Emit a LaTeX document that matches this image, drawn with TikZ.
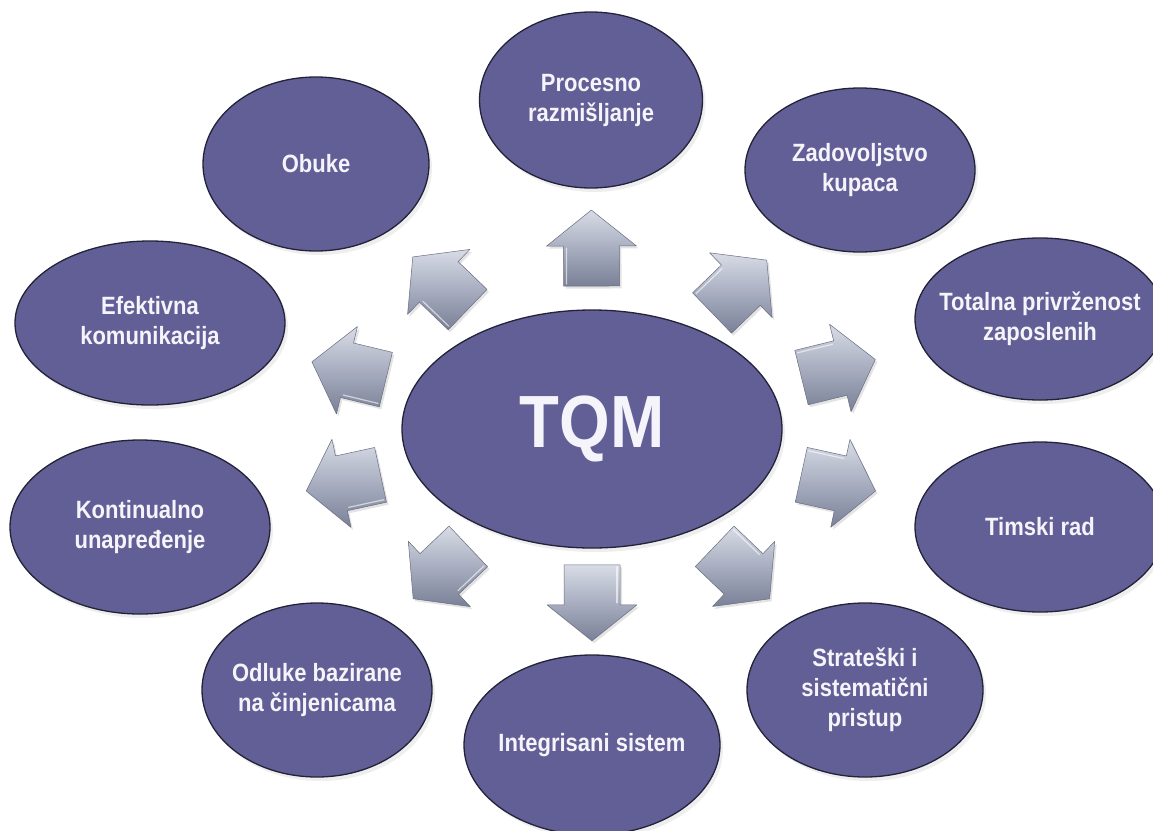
\documentclass[tikz,border=0pt]{standalone}
\usepackage{fontspec}
\newfontfamily\labelfont{Liberation Sans}[FakeStretch=0.88]
\usetikzlibrary{shapes.geometric,shadows}

\definecolor{ovalfill}{RGB}{98,95,150}
\definecolor{ovaledge}{RGB}{34,34,56}
\definecolor{ovaltext}{RGB}{244,244,250}
\definecolor{arrowlight}{RGB}{216,220,230}
\definecolor{arrowmid}{RGB}{168,174,192}
\definecolor{arrowdark}{RGB}{122,128,150}

\tikzset{
  oval/.style={ellipse, draw=ovaledge, line width=1.3pt, fill=ovalfill,
    text=ovaltext, align=center, inner xsep=-30pt, inner ysep=0pt,
    font=\labelfont\bfseries\fontsize{25}{30}\selectfont,
    drop shadow={opacity=0.13, shadow xshift=3pt, shadow yshift=-4pt}},
  hubtext/.style={font=\labelfont\bfseries\fontsize{74}{80}\selectfont},
  blockarrow/.pic={
    \shade[top color=arrowlight, bottom color=arrowdark, middle color=arrowmid,
      draw=arrowdark!85!black, line width=0.5pt, line join=round,
      drop shadow={opacity=0.22, shadow xshift=2pt, shadow yshift=-2.5pt}]
      (-38,-28) -- (2,-28) -- (2,-45) -- (38,0) -- (2,45) -- (2,28)
      -- (-38,28) -- cycle;
    \draw[white, opacity=0.6, line width=1.2pt, line cap=round]
      (-36,-25) -- (0,-25);
  },
  spoke/.style={pos=0.55, sloped, allow upside down}
}

\begin{document}
\begin{tikzpicture}[x=1pt, y=-1pt]
  \fill[white] (0,0) rectangle (1153,830);
  \useasboundingbox (0,0) rectangle (1153,830);

  % central hub
  \node[oval, minimum width=380pt, minimum height=238pt, hubtext] (tqm) at (592,429) {TQM};

  % surrounding principles
  \node[oval, minimum width=223pt, minimum height=176pt] (proc) at (591,100) {Procesno\\razmišljanje};
  \node[oval, minimum width=230pt, minimum height=164pt] (zad)  at (860,170) {Zadovoljstvo\\kupaca};
  \node[oval, minimum width=250pt, minimum height=162pt] (tot)  at (1040,319) {Totalna privrženost\\zaposlenih};
  \node[oval, minimum width=250pt, minimum height=170pt] (tim)  at (1040,527) {Timski rad};
  \node[oval, minimum width=236pt, minimum height=174pt] (str)  at (865,690) {Strateški i\\sistematični\\pristup};
  \node[oval, minimum width=256pt, minimum height=180pt] (int)  at (592,745) {Integrisani sistem};
  \node[oval, minimum width=230pt, minimum height=174pt] (odl)  at (317,690) {Odluke bazirane\\na činjenicama};
  \node[oval, minimum width=260pt, minimum height=174pt] (kon)  at (140,527) {Kontinualno\\unapređenje};
  \node[oval, minimum width=270pt, minimum height=164pt] (efk)  at (150,323) {Efektivna\\komunikacija};
  \node[oval, minimum width=226pt, minimum height=174pt] (obu)  at (316,164) {Obuke};

  % block arrows pointing from the hub to each principle
  \foreach \target in {proc,zad,tot,tim,str,int,odl,kon,efk,obu}
    \path (tqm.center) -- (\target.center) pic[spoke] {blockarrow};
\end{tikzpicture}
\end{document}
